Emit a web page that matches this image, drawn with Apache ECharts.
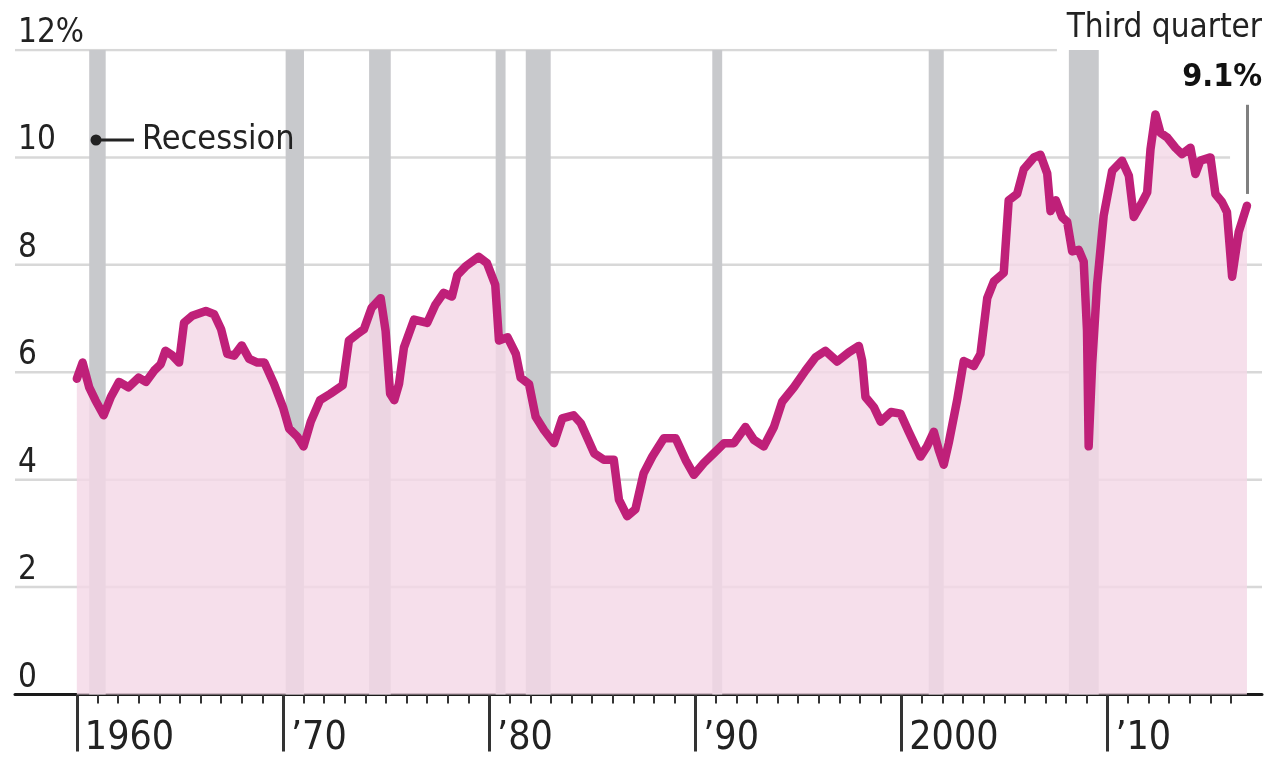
<!DOCTYPE html>
<html>
<head>
<meta charset="utf-8">
<script src="https://cdn.jsdelivr.net/npm/echarts@6.0.0/dist/echarts.min.js"></script>
<style>
  html, body { margin: 0; padding: 0; background: #fff; }
  #chart { width: 1273px; height: 758px; }
</style>
</head>
<body>
<div id="chart"></div>
<script>
// Quarterly-ish readings: time (decimal year) and rate (%)
const years = [
  1960.0, 1960.28, 1960.6, 1960.9, 1961.3, 1961.65, 1962.05, 1962.5, 1963.0, 1963.35,
  1963.75, 1964.07, 1964.3, 1964.64, 1964.96, 1965.2, 1965.6, 1966.26, 1966.66, 1967.0,
  1967.3, 1967.63, 1968.0, 1968.36, 1968.76, 1969.1, 1969.57, 1970.0, 1970.3, 1970.7,
  1971.0, 1971.35, 1971.8, 1972.3, 1972.9, 1973.2, 1973.6, 1973.93, 1974.3, 1974.74,
  1974.98, 1975.2, 1975.4, 1975.63, 1975.87, 1976.36, 1977.0, 1977.4, 1977.8, 1978.2,
  1978.46, 1978.86, 1979.5, 1979.9, 1980.3, 1980.48, 1980.9, 1981.3, 1981.53, 1981.94,
  1982.26, 1982.67, 1983.15, 1983.55, 1984.1, 1984.45, 1985.1, 1985.57, 1986.05, 1986.3,
  1986.7, 1987.1, 1987.5, 1987.92, 1988.48, 1989.05, 1989.53, 1989.94, 1990.42, 1990.9,
  1991.4, 1991.88, 1992.44, 1992.85, 1993.33, 1993.82, 1994.22, 1994.79, 1995.35, 1995.84,
  1996.32, 1996.89, 1997.45, 1997.94, 1998.1, 1998.26, 1998.67, 1999.0, 1999.5, 1999.96,
  2000.36, 2000.93, 2001.25, 2001.58, 2001.82, 2002.06, 2002.3, 2002.71, 2003.03, 2003.52,
  2003.84, 2004.17, 2004.49, 2004.97, 2005.21, 2005.62, 2005.94, 2006.43, 2006.75, 2007.08,
  2007.24, 2007.5, 2007.8, 2008.05, 2008.29, 2008.61, 2008.85, 2009.01, 2009.09, 2009.26,
  2009.5, 2009.82, 2010.23, 2010.71, 2011.04, 2011.28, 2011.69, 2011.93, 2012.09, 2012.33,
  2012.57, 2012.9, 2013.3, 2013.62, 2014.03, 2014.27, 2014.51, 2015.0, 2015.24, 2015.56,
  2015.8, 2016.05, 2016.37, 2016.77
];
const rates = [
  5.88, 6.18, 5.72, 5.48, 5.2, 5.54, 5.82, 5.72, 5.9, 5.82,
  6.03, 6.15, 6.4, 6.31, 6.18, 6.92, 7.05, 7.14, 7.08, 6.8,
  6.34, 6.31, 6.5, 6.25, 6.18, 6.18, 5.78, 5.35, 4.95, 4.8,
  4.62, 5.08, 5.48, 5.6, 5.76, 6.59, 6.71, 6.8, 7.2, 7.38,
  6.77, 5.6, 5.48, 5.78, 6.46, 6.98, 6.92, 7.26, 7.48, 7.41,
  7.81, 7.97, 8.15, 8.03, 7.63, 6.59, 6.65, 6.34, 5.9, 5.78,
  5.17, 4.92, 4.68, 5.14, 5.2, 5.05, 4.49, 4.37, 4.37, 3.63,
  3.32, 3.45, 4.12, 4.43, 4.77, 4.77, 4.37, 4.09, 4.31, 4.49,
  4.68, 4.68, 4.98, 4.74, 4.62, 4.98, 5.45, 5.72, 6.03, 6.28,
  6.4, 6.2, 6.37, 6.49, 6.22, 5.54, 5.35, 5.08, 5.26, 5.23,
  4.89, 4.43, 4.62, 4.89, 4.55, 4.28, 4.68, 5.48, 6.21, 6.12,
  6.34, 7.38, 7.69, 7.85, 9.2, 9.32, 9.78, 10.0, 10.05, 9.7,
  9.0, 9.2, 8.89, 8.8, 8.25, 8.28, 8.06, 6.77, 4.62, 6.15,
  7.63, 8.92, 9.75, 9.94, 9.66, 8.89, 9.17, 9.35, 10.15, 10.8,
  10.46, 10.37, 10.18, 10.06, 10.18, 9.69, 9.94, 10.0, 9.32, 9.17,
  8.98, 7.78, 8.61, 9.1
];
// Recession periods (start, end) in decimal years
const recessions = [
  [1960.6, 1961.4], [1970.13, 1971.02], [1974.18, 1975.23], [1980.32, 1980.8],
  [1981.78, 1982.99], [1990.83, 1991.31], [2001.33, 2002.06], [2008.13, 2009.58]
];
const decadeTicks = [1960, 1970, 1980, 1990, 2000, 2010];
const decadeLabels = ['1960', '\u201970', '\u201980', '\u201990', '2000', '\u201910'];
const yTicks = [0, 2, 4, 6, 8, 10, 12];
const annotationTitle = 'Third quarter';

const xMin = 1957, xMax = 2017.5;
const FONT = "'Liberation Sans Narrow', 'DejaVu Sans Condensed', 'Roboto Condensed', 'Liberation Sans', sans-serif";
const INK = '#222';

// one short tick per year between the decade marks
const yearTicks = [];
for (let y = decadeTicks[0] + 1; y <= Math.floor(years[years.length - 1]); y++) {
  if (y % 10 !== 0) yearTicks.push(y);
}

// gridlines near the annotation stop short
function gridEnd(v) {
  if (v === 12) return 2007.55;
  if (v === 10) return 2015.95;
  return xMax;
}

const lastYear = years[years.length - 1];
const lastRate = rates[rates.length - 1];

const gridSeries = yTicks.filter(v => v > 0).map(v => ({
  type: 'line',
  xAxisIndex: 0,
  data: [[xMin, v], [gridEnd(v), v]],
  symbol: 'none',
  silent: true,
  z: 0,
  lineStyle: { color: '#d8d8d8', width: 2.5 },
  animation: false
}));

const chart = echarts.init(document.getElementById('chart'), null, { renderer: 'canvas' });

chart.setOption({
  animation: false,
  backgroundColor: '#ffffff',
  grid: { left: 15, right: 11, top: 50, bottom: 58, containLabel: false },
  xAxis: [
    {
      type: 'value', min: xMin, max: xMax, position: 'bottom',
      axisLine: { show: true, onZero: false, lineStyle: { color: '#1a1a1a', width: 3 } },
      axisTick: { show: true, customValues: yearTicks, length: 9, lineStyle: { color: '#333', width: 2 } },
      axisLabel: { show: false },
      splitLine: { show: false }
    },
    {
      type: 'value', min: xMin, max: xMax, position: 'bottom',
      axisLine: { show: false, onZero: false },
      axisTick: { show: true, customValues: decadeTicks, length: 57, lineStyle: { color: '#333', width: 3 } },
      axisLabel: {
        show: true, customValues: decadeTicks,
        formatter: v => decadeLabels[decadeTicks.indexOf(Math.round(v))] || '',
        align: 'left', verticalAlign: 'middle', margin: 44, padding: [0, 0, 0, 8],
        fontSize: 39, color: INK, fontFamily: FONT
      },
      splitLine: { show: false }
    }
  ],
  yAxis: {
    type: 'value', min: 0, max: 12, interval: 2,
    axisLine: { show: false }, axisTick: { show: false }, splitLine: { show: false },
    axisLabel: {
      inside: true, margin: 3, verticalAlign: 'bottom', align: 'left',
      formatter: v => (v === 12 ? '12%' : String(v)),
      fontSize: 33, color: INK, fontFamily: FONT
    }
  },
  series: [
    ...gridSeries,
    {
      name: 'Recession',
      type: 'line',
      xAxisIndex: 0,
      data: [],
      silent: true,
      z: 1,
      markArea: {
        silent: true,
        z: 1,
        itemStyle: { color: '#c8c9cc' },
        label: { show: false },
        data: recessions.map(r => [{ xAxis: r[0] }, { xAxis: r[1] }])
      }
    },
    {
      name: 'Rate',
      type: 'line',
      xAxisIndex: 0,
      z: 3,
      data: years.map((y, i) => [y, rates[i]]),
      symbol: 'none',
      smooth: false,
      lineStyle: { color: '#bf2079', width: 8.5, cap: 'round', join: 'round' },
      areaStyle: { color: 'rgb(244,216,231)', opacity: 0.82 },
      markLine: {
        silent: true,
        symbol: ['none', 'none'],
        label: { show: false },
        lineStyle: { color: '#808080', width: 3, type: 'solid' },
        data: [[{ coord: [lastYear, lastRate + 0.22] }, { coord: [lastYear, 10.98] }]]
      }
    }
  ],
  graphic: [
    { type: 'circle', shape: { cx: 96, cy: 140, r: 5.5 }, style: { fill: INK }, z: 10 },
    { type: 'line', shape: { x1: 96, y1: 140, x2: 134, y2: 140 }, style: { stroke: INK, lineWidth: 3 }, z: 10 },
    { type: 'text', x: 142, y: 140, z: 10,
      style: { text: 'Recession', fill: INK, font: '34px ' + FONT, verticalAlign: 'middle', align: 'left' } },
    { type: 'text', right: 11, top: 12, z: 10,
      style: { text: annotationTitle, fill: INK, font: '33px ' + FONT } },
    { type: 'text', right: 11, top: 62, z: 10,
      style: { text: lastRate.toFixed(1) + '%', fill: '#111', font: 'bold 32px ' + FONT } }
  ]
});
</script>
</body>
</html>
